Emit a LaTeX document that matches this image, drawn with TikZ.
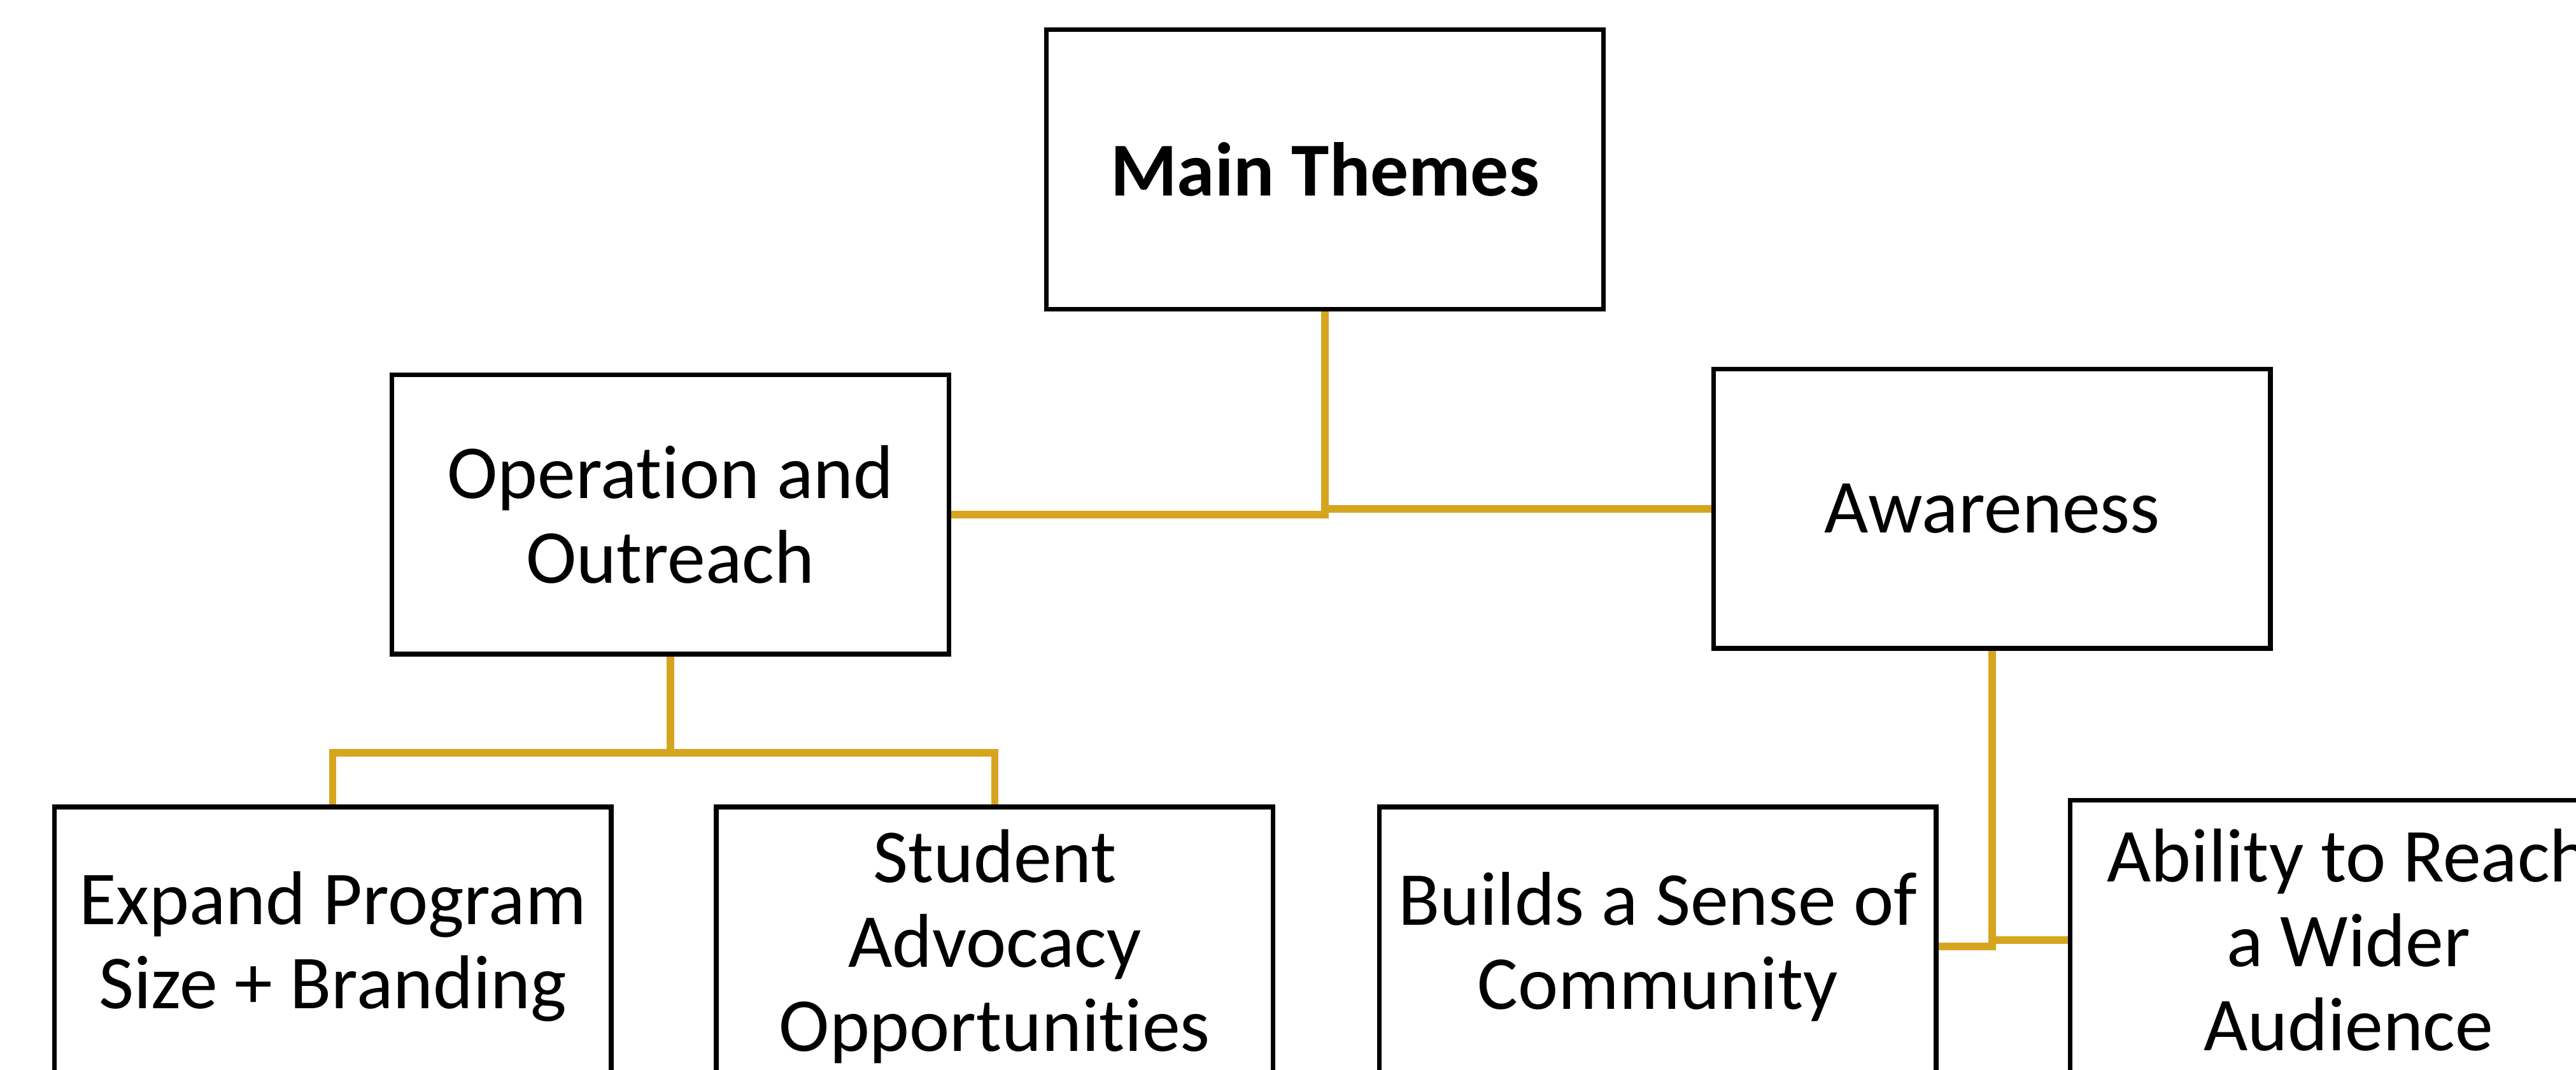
\documentclass[tikz,border=0pt]{standalone}
\usepackage{fontspec}
\setmainfont{Carlito}[Ligatures=NoCommon]
\usetikzlibrary{positioning}
\definecolor{linkgold}{RGB}{214,165,32}

\begin{document}
\begin{tikzpicture}[every node/.style={shape=rectangle,draw,line width=0.8pt,align=center,minimum width=3.39cm,minimum height=1.70cm,inner sep=0,font=\fontsize{13.2}{14.6}\selectfont},link/.style={draw=linkgold,line width=1.3pt}]

\useasboundingbox (0,0) rectangle (15.68,6.51);
\clip (0,0) rectangle (15.68,6.51);

\node (main) at (8.065,5.48) {\textbf{Main Themes}};
\node (oper) at (4.08,3.38) {Operation and\\Outreach};
\node (aware) at (12.125,3.415) {Awareness};
\node (expand) at (2.025,0.75) {Expand Program\\Size + Branding};
\node (student) at (6.055,0.75) {Student\\Advocacy\\Opportunities};
\node (builds) at (10.09,0.75) {Builds a Sense of\\Community};
\node (ability) at (14.295,0.79) {Ability to Reach\\a Wider\\Audience};

\coordinate (obus) at (4.08,1.93);
\path[link] (main.south) |- (oper.east);
\path[link] (main.south) |- (aware.west);
\path[link] (oper.south) -- (obus);
\path[link] (expand.north) |- (obus) -| (student.north);
\path[link] (aware.south) |- (builds.east);
\path[link] (aware.south) |- (ability.west);

\end{tikzpicture}
\end{document}
